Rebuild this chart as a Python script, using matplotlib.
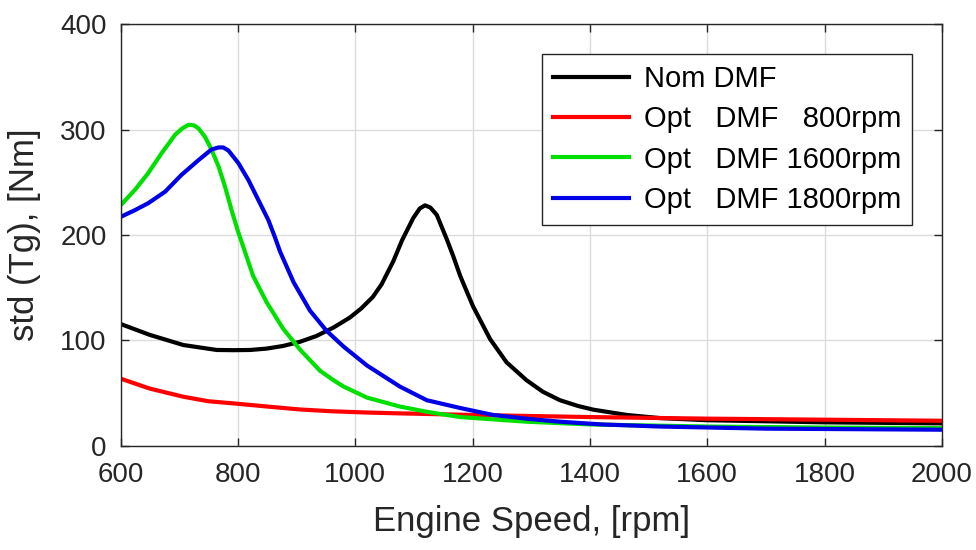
import matplotlib
matplotlib.use("Agg")
import matplotlib.pyplot as plt

plt.rcParams['font.family'] = ['Liberation Sans', 'DejaVu Sans']

# Data
x_nom = [600, 650, 707, 764, 792, 821, 849, 877, 906, 934, 963, 991, 1010, 1030, 1045,
         1065, 1080, 1099, 1110, 1119, 1128, 1139, 1156, 1167, 1179, 1201, 1230, 1258,
         1292, 1320, 1349, 1380, 1406, 1463, 1520, 1600, 1700, 1800, 2000]
y_nom = [115.4, 105, 95.4, 90.7, 90.5, 90.7, 92, 94.5, 98.5, 104, 112, 121.5, 130, 141, 153,
         175, 195, 216, 225, 228, 226, 219, 196, 180, 161, 132, 101, 79,
         62, 51, 43, 37.5, 34, 29, 26, 24, 23, 22, 21]

x_800 = [600, 650, 707, 750, 792, 850, 906, 960, 1020, 1076, 1200, 1400, 1600, 1800, 2000]
y_800 = [63.5, 54, 46.3, 42, 40, 37, 34.2, 32.5, 31.3, 30.5, 29, 27, 25.5, 24.5, 23.5]

x_1600 = [600, 625, 647, 670, 693, 705, 716, 725, 733, 744, 755, 767, 778, 790, 801,
          809, 826, 849, 877, 906, 940, 963, 980, 1020, 1076, 1122, 1179, 1292, 1400,
          1600, 1800, 2000]
y_1600 = [228, 243, 258.5, 277.5, 295, 301, 304.5, 304, 301, 293, 281, 265, 246, 222, 202,
          189, 161, 136, 111, 91, 71, 62, 56, 45.5, 37, 32, 27, 22.6, 20,
          18, 17, 16.5]

x_1800 = [600, 625, 647, 676, 704, 733, 755, 767, 775, 784, 801, 818, 835, 852, 863,
          872, 895, 923, 951, 980, 1020, 1076, 1122, 1179, 1235, 1300, 1349, 1420, 1520,
          1700, 2000]
y_1800 = [217, 223.6, 230, 241, 257, 271, 281, 283, 283, 280, 268, 252, 233, 214, 198,
          184, 155, 128, 109, 94, 76, 56, 43, 35.6, 29, 25, 22.6, 20, 18,
          16, 15]

labels = ["Nom DMF", "Opt   DMF   800rpm", "Opt   DMF 1600rpm", "Opt   DMF 1800rpm"]
colors = ["#000000", "#ff0000", "#00e000", "#0000e6"]
xticks = [600, 800, 1000, 1200, 1400, 1600, 1800, 2000]
yticks = [0, 100, 200, 300, 400]

fig = plt.figure(figsize=(9.76, 5.5), dpi=100)
ax = fig.add_axes([0.1235, 0.19, 0.8415, 0.766])

series = [(x_nom, y_nom), (x_800, y_800), (x_1600, y_1600), (x_1800, y_1800)]
for (xs, ys), lab, c in zip(series, labels, colors):
    ax.plot(xs, ys, color=c, lw=3, label=lab, solid_joinstyle='round')

ax.set_xlim(600, 2000)
ax.set_ylim(0, 400)
ax.set_xticks(xticks)
ax.set_yticks(yticks)
tc = '#262626'
ax.tick_params(direction='in', length=6, width=1, top=True, right=True,
               labelsize=20, colors=tc)
ax.tick_params(axis='x', pad=12)
ax.tick_params(axis='y', pad=10)
for s in ax.spines.values():
    s.set_color(tc)
    s.set_linewidth(1)
ax.grid(True, color='#dcdcdc', lw=1)
ax.set_axisbelow(True)
ax.set_xlabel("Engine Speed, [rpm]", fontsize=25, color=tc, labelpad=12)
ax.set_ylabel("std (Tg), [Nm]", fontsize=25, color=tc, labelpad=14)

leg = ax.legend(loc='upper right', bbox_to_anchor=(0.964, 0.929), fontsize=21,
                frameon=True, fancybox=False, framealpha=1, edgecolor=tc,
                handlelength=2.6, handletextpad=0.5, labelspacing=0.42,
                borderpad=0.38, borderaxespad=0)
leg.get_frame().set_linewidth(1)
for t in leg.get_texts():
    t.set_color('#000000')

fig.savefig("out.png", dpi=100, facecolor='white')
